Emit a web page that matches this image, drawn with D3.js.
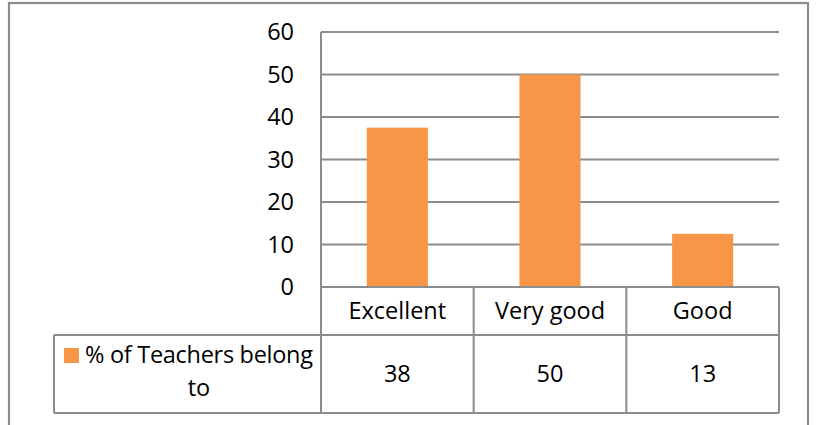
<!DOCTYPE html>
<html>
<head>
<meta charset="utf-8">
<script src="https://cdn.jsdelivr.net/npm/d3@7"></script>
<style>
  html, body { margin: 0; padding: 0; background: #fff; }
  svg { display: block; }
  text { font-family: "Open Sans", "Noto Sans", sans-serif; fill: #000; }
</style>
</head>
<body>
<div id="chart"></div>
<script>
const categories = ["Excellent", "Very good", "Good"];
const seriesName = "% of Teachers belong to";
const values = [37.5, 50, 12.5];
const yTicks = [0, 10, 20, 30, 40, 50, 60];

(function () {
const W = 816, H = 425;
const svg = d3.select("#chart").append("svg").attr("width", W).attr("height", H);

const gridColor = "#8c8c8c";
const barColor = "#F79646";
const fs = 23.5;

// outer frame
svg.append("rect").attr("x", 9).attr("y", 3).attr("width", 799).attr("height", 440)
  .attr("fill", "none").attr("stroke", gridColor).attr("stroke-width", 2.2);

const pLeft = 321, pRight = 779, pTop = 32, zeroY = 287;
const row1 = 335, row2 = 413, legLeft = 54;

const x = d3.scaleBand().domain(categories).range([pLeft, pRight]).padding(0);
const y = d3.scaleLinear().domain([0, 60]).range([zeroY, pTop]);

// gridlines
svg.append("g").selectAll("line").data(yTicks.filter(d => d > 0)).join("line")
  .attr("x1", pLeft).attr("x2", pRight)
  .attr("y1", d => y(d)).attr("y2", d => y(d))
  .attr("stroke", gridColor).attr("stroke-width", 2);

// y axis labels
const yAxis = d3.axisLeft(y).tickValues(yTicks).tickSize(0).tickPadding(27);
const ga = svg.append("g").attr("transform", `translate(${pLeft},0)`).call(yAxis);
ga.select(".domain").remove();
ga.selectAll("text").style("font-size", fs + "px").style("font-family", '"Open Sans", sans-serif').attr("fill", "#000");

// bars
const bw = x.bandwidth() * 0.4;
svg.append("g").selectAll("rect").data(values).join("rect")
  .attr("x", (d, i) => x(categories[i]) + (x.bandwidth() - bw) / 2)
  .attr("width", bw)
  .attr("y", d => y(d))
  .attr("height", d => y(0) - y(d))
  .attr("fill", barColor);

// table
const tb = svg.append("g").attr("stroke", gridColor).attr("stroke-width", 2).attr("fill", "none");
tb.append("line").attr("x1", pLeft).attr("x2", pRight).attr("y1", zeroY).attr("y2", zeroY);
tb.append("line").attr("x1", legLeft).attr("x2", pRight).attr("y1", row1).attr("y2", row1);
tb.append("line").attr("x1", legLeft).attr("x2", pRight).attr("y1", row2).attr("y2", row2);
tb.append("line").attr("x1", pLeft).attr("x2", pLeft).attr("y1", pTop).attr("y2", row2);
tb.append("line").attr("x1", legLeft).attr("x2", legLeft).attr("y1", row1).attr("y2", row2);
categories.forEach(c => {
  const xr = x(c) + x.bandwidth();
  tb.append("line").attr("x1", xr).attr("x2", xr).attr("y1", zeroY).attr("y2", row2);
});

// category labels
svg.append("g").selectAll("text").data(categories).join("text")
  .attr("x", d => x(d) + x.bandwidth() / 2)
  .attr("y", (zeroY + row1) / 2)
  .attr("dy", "0.35em")
  .attr("text-anchor", "middle")
  .style("font-size", fs + "px")
  .text(d => d);

// values row
svg.append("g").selectAll("text").data(values).join("text")
  .attr("x", (d, i) => x(categories[i]) + x.bandwidth() / 2)
  .attr("y", (row1 + row2) / 2)
  .attr("dy", "0.35em")
  .attr("text-anchor", "middle")
  .style("font-size", fs + "px")
  .text(d => Math.round(d));

// legend cell
svg.append("rect").attr("x", 64).attr("y", 348).attr("width", 15).attr("height", 15).attr("fill", barColor);
const words = seriesName.split(" ");
const line1 = words.slice(0, 4).join(" ");
const line2 = words.slice(4).join(" ");
svg.append("text").attr("x", 85).attr("y", 355).attr("dy", "0.35em")
  .style("font-size", fs + "px").attr("textLength", 228).text(line1);
svg.append("text").attr("x", 199).attr("y", 388).attr("dy", "0.35em")
  .attr("text-anchor", "middle").style("font-size", fs + "px").text(line2);
})();
</script>
</body>
</html>
